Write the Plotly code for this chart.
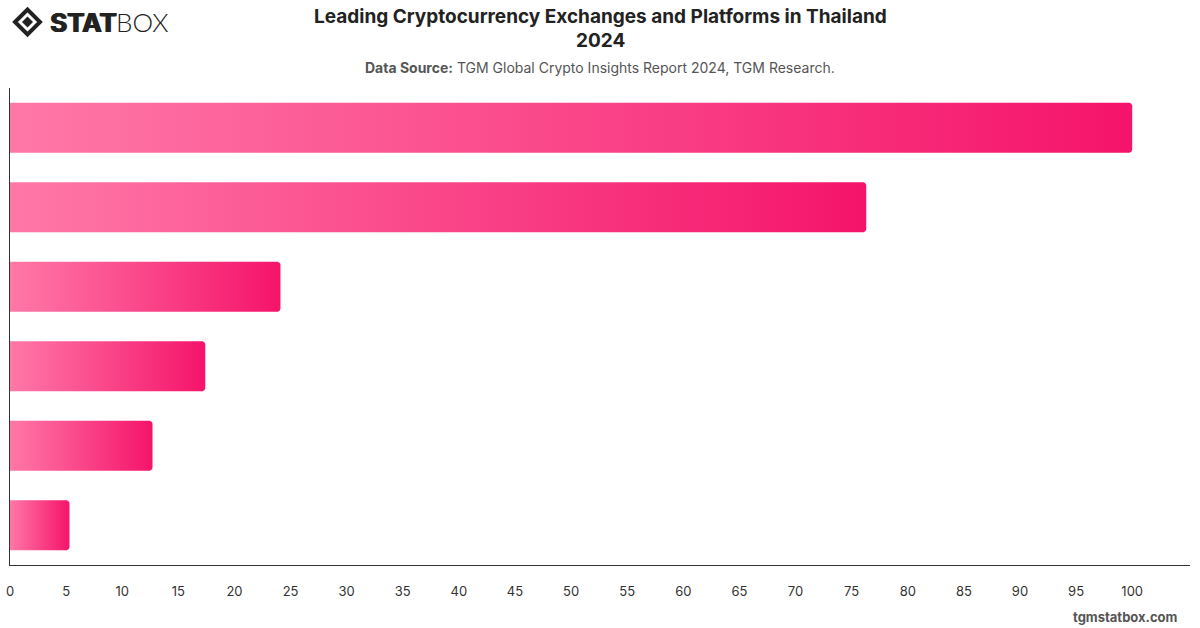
import numpy as np
import plotly.graph_objects as go

# ---- data ----
categories = ["Exchange 1", "Exchange 2", "Exchange 3", "Exchange 4", "Exchange 5", "Exchange 6"]
values = [100, 76.3, 24.1, 17.4, 12.7, 5.3]
tick_values = list(range(0, 101, 5))
tick_labels = [str(t) for t in tick_values]

title_line1 = "Leading Cryptocurrency Exchanges and Platforms in Thailand"
title_line2 = "2024"
source_label = "Data Source:"
source_text = "TGM Global Crypto Insights Report 2024, TGM Research."

COLOR_LIGHT = "#FF78A7"
COLOR_DARK = "#F5146B"

W, H = 1200, 628
ML, MR, MT, MB = 10, 10, 88, 63
XMAX = 105.15
plot_w = W - ML - MR
plot_h = H - MT - MB
n = len(values)
px_per_x = plot_w / XMAX
px_per_y = plot_h / n
half = 0.315
r_px = 3.5
rx = r_px / px_per_x
ry = r_px / px_per_y


def px(xp):
    return (xp - ML) / plot_w


def py(yp):
    return (H - MB - yp) / plot_h


fig = go.Figure()
theta = np.linspace(0, np.pi / 2, 7)
for i, (cat, v) in enumerate(zip(categories, values)):
    y0, y1 = i - half, i + half
    xs = [0, v - rx]
    ys = [y0, y0]
    for t in theta:
        xs.append(v - rx + rx * np.sin(t))
        ys.append(y0 + ry - ry * np.cos(t))
    for t in theta:
        xs.append(v - rx + rx * np.cos(t))
        ys.append(y1 - ry + ry * np.sin(t))
    xs += [0, 0]
    ys += [y1, y0]
    fig.add_trace(go.Scatter(
        x=xs, y=ys, mode="none", fill="toself",
        fillgradient=dict(type="horizontal", start=0, stop=v,
                          colorscale=[[0, COLOR_LIGHT], [1, COLOR_DARK]]),
        name=cat, hoverinfo="text", text=f"{cat}: {v}", showlegend=False,
    ))

fig.update_layout(
    width=W, height=H,
    margin=dict(l=ML, r=MR, t=MT, b=MB, autoexpand=False),
    paper_bgcolor="white", plot_bgcolor="white",
    font=dict(family="Inter, Roboto, sans-serif", color="#333"),
    xaxis=dict(range=[0, XMAX], tickvals=tick_values, ticktext=tick_labels,
               showgrid=False, zeroline=False, showline=True, linecolor="#333",
               linewidth=1, ticks="", ticklabelstandoff=14, automargin=False,
               tickfont=dict(size=13, color="#333")),
    yaxis=dict(range=[n - 0.5, -0.5], showgrid=False, zeroline=False,
               showline=True, linecolor="#333", linewidth=1, automargin=False,
               showticklabels=False, ticks=""),
)

annos = [
    dict(text=f"<b>{title_line1}</b>", x=px(600), y=py(17), size=19, color="#222"),
    dict(text=f"<b>{title_line2}</b>", x=px(600), y=py(40), size=19, color="#222"),
    dict(text=f"<b>{source_label}</b> {source_text}", x=px(600), y=py(67), size=14, color="#555"),
]
for a in annos:
    fig.add_annotation(text=a["text"], xref="paper", yref="paper", x=a["x"], y=a["y"],
                       xanchor="center", yanchor="middle", showarrow=False,
                       font=dict(size=a["size"], color=a["color"], family="Inter, sans-serif"))

# footer
fig.add_annotation(
    text="<b>tgmstatbox.com</b>", xref="paper", yref="paper",
    x=px(1180), y=py(617), xanchor="right", yanchor="middle",
    showarrow=False, font=dict(size=13, color="#555", family="Inter, sans-serif"),
)

# logo text
fig.add_annotation(
    text="<b>STAT</b>", xref="paper", yref="paper", x=px(48), y=py(22),
    xanchor="left", yanchor="middle", showarrow=False,
    font=dict(size=26, color="#222", family="Inter, sans-serif",
              shadow="1px 0px 0px #222, -0.5px 0px 0px #222"),
)
fig.add_annotation(
    text="BOX", xref="paper", yref="paper", x=px(114), y=py(22),
    xanchor="left", yanchor="middle", showarrow=False,
    font=dict(size=26, color="#222", family="Lato, Inter, sans-serif", weight=300),
)

# logo icon (diamond outline + inner diamond)
cx, cy, R, r = 27.5, 22, 12.5, 5.5
outer = f"M {px(cx - R)} {py(cy)} L {px(cx)} {py(cy - R)} L {px(cx + R)} {py(cy)} L {px(cx)} {py(cy + R)} Z"
inner = f"M {px(cx - r)} {py(cy)} L {px(cx)} {py(cy - r)} L {px(cx + r)} {py(cy)} L {px(cx)} {py(cy + r)} Z"
fig.add_shape(type="path", path=outer, xref="paper", yref="paper",
              line=dict(color="#222", width=4), fillcolor="rgba(0,0,0,0)")
fig.add_shape(type="path", path=inner, xref="paper", yref="paper",
              line=dict(color="#222", width=0), fillcolor="#222")

fig.write_html("out.html")
